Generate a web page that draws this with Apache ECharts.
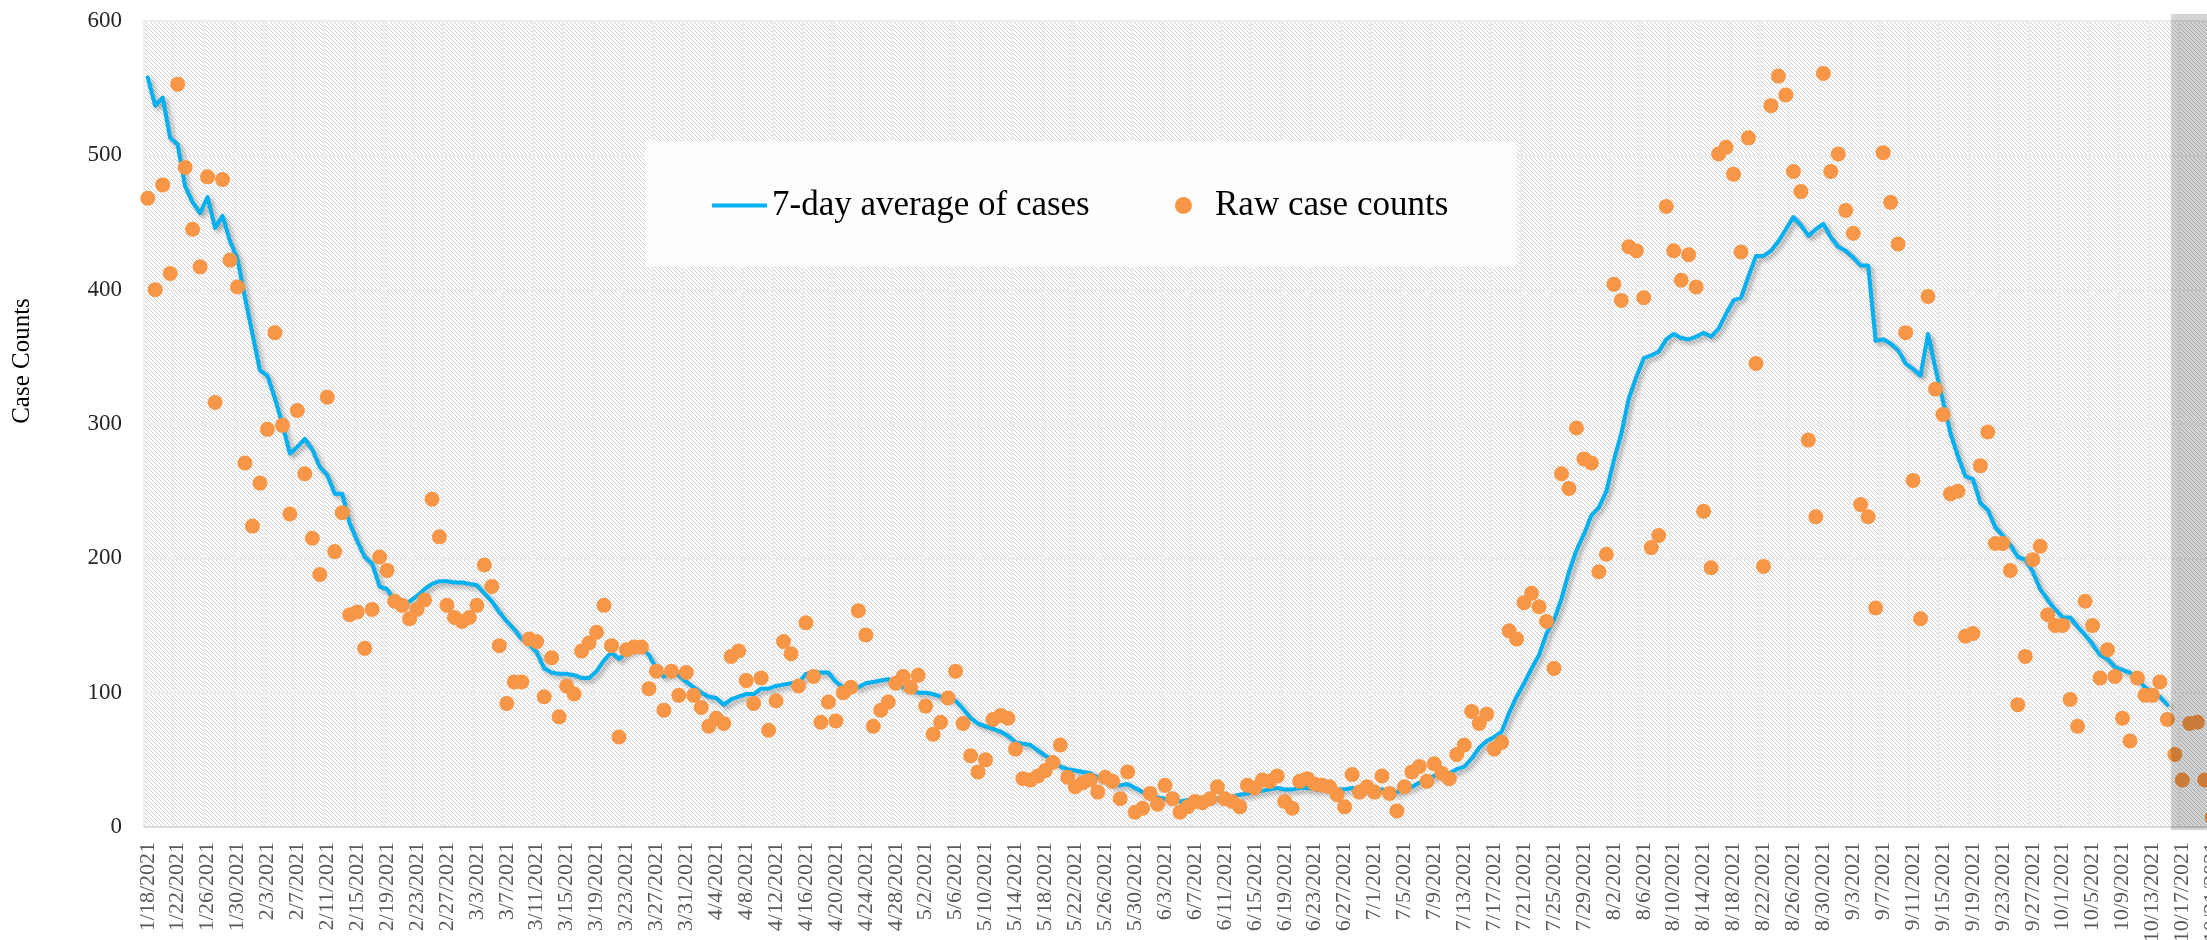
<!DOCTYPE html>
<html>
<head>
<meta charset="utf-8">
<script src="https://cdn.jsdelivr.net/npm/echarts@6/dist/echarts.min.js"></script>
<style>
html,body{margin:0;padding:0;background:#fff;}
#chart{width:2207px;height:940px;}
</style>
</head>
<body>
<div id="chart"></div>
<script>
const categories = [
"1/18/2021","1/19/2021","1/20/2021","1/21/2021","1/22/2021","1/23/2021","1/24/2021","1/25/2021","1/26/2021","1/27/2021","1/28/2021","1/29/2021","1/30/2021","1/31/2021",
"2/1/2021","2/2/2021","2/3/2021","2/4/2021","2/5/2021","2/6/2021","2/7/2021","2/8/2021","2/9/2021","2/10/2021","2/11/2021","2/12/2021","2/13/2021","2/14/2021","2/15/2021","2/16/2021","2/17/2021","2/18/2021","2/19/2021","2/20/2021","2/21/2021","2/22/2021","2/23/2021","2/24/2021","2/25/2021","2/26/2021","2/27/2021","2/28/2021",
"3/1/2021","3/2/2021","3/3/2021","3/4/2021","3/5/2021","3/6/2021","3/7/2021","3/8/2021","3/9/2021","3/10/2021","3/11/2021","3/12/2021","3/13/2021","3/14/2021","3/15/2021","3/16/2021","3/17/2021","3/18/2021","3/19/2021","3/20/2021","3/21/2021","3/22/2021","3/23/2021","3/24/2021","3/25/2021","3/26/2021","3/27/2021","3/28/2021","3/29/2021","3/30/2021","3/31/2021",
"4/1/2021","4/2/2021","4/3/2021","4/4/2021","4/5/2021","4/6/2021","4/7/2021","4/8/2021","4/9/2021","4/10/2021","4/11/2021","4/12/2021","4/13/2021","4/14/2021","4/15/2021","4/16/2021","4/17/2021","4/18/2021","4/19/2021","4/20/2021","4/21/2021","4/22/2021","4/23/2021","4/24/2021","4/25/2021","4/26/2021","4/27/2021","4/28/2021","4/29/2021","4/30/2021",
"5/1/2021","5/2/2021","5/3/2021","5/4/2021","5/5/2021","5/6/2021","5/7/2021","5/8/2021","5/9/2021","5/10/2021","5/11/2021","5/12/2021","5/13/2021","5/14/2021","5/15/2021","5/16/2021","5/17/2021","5/18/2021","5/19/2021","5/20/2021","5/21/2021","5/22/2021","5/23/2021","5/24/2021","5/25/2021","5/26/2021","5/27/2021","5/28/2021","5/29/2021","5/30/2021","5/31/2021",
"6/1/2021","6/2/2021","6/3/2021","6/4/2021","6/5/2021","6/6/2021","6/7/2021","6/8/2021","6/9/2021","6/10/2021","6/11/2021","6/12/2021","6/13/2021","6/14/2021","6/15/2021","6/16/2021","6/17/2021","6/18/2021","6/19/2021","6/20/2021","6/21/2021","6/22/2021","6/23/2021","6/24/2021","6/25/2021","6/26/2021","6/27/2021","6/28/2021","6/29/2021","6/30/2021",
"7/1/2021","7/2/2021","7/3/2021","7/4/2021","7/5/2021","7/6/2021","7/7/2021","7/8/2021","7/9/2021","7/10/2021","7/11/2021","7/12/2021","7/13/2021","7/14/2021","7/15/2021","7/16/2021","7/17/2021","7/18/2021","7/19/2021","7/20/2021","7/21/2021","7/22/2021","7/23/2021","7/24/2021","7/25/2021","7/26/2021","7/27/2021","7/28/2021","7/29/2021","7/30/2021","7/31/2021",
"8/1/2021","8/2/2021","8/3/2021","8/4/2021","8/5/2021","8/6/2021","8/7/2021","8/8/2021","8/9/2021","8/10/2021","8/11/2021","8/12/2021","8/13/2021","8/14/2021","8/15/2021","8/16/2021","8/17/2021","8/18/2021","8/19/2021","8/20/2021","8/21/2021","8/22/2021","8/23/2021","8/24/2021","8/25/2021","8/26/2021","8/27/2021","8/28/2021","8/29/2021","8/30/2021","8/31/2021",
"9/1/2021","9/2/2021","9/3/2021","9/4/2021","9/5/2021","9/6/2021","9/7/2021","9/8/2021","9/9/2021","9/10/2021","9/11/2021","9/12/2021","9/13/2021","9/14/2021","9/15/2021","9/16/2021","9/17/2021","9/18/2021","9/19/2021","9/20/2021","9/21/2021","9/22/2021","9/23/2021","9/24/2021","9/25/2021","9/26/2021","9/27/2021","9/28/2021","9/29/2021","9/30/2021",
"10/1/2021","10/2/2021","10/3/2021","10/4/2021","10/5/2021","10/6/2021","10/7/2021","10/8/2021","10/9/2021","10/10/2021","10/11/2021","10/12/2021","10/13/2021","10/14/2021","10/15/2021","10/16/2021","10/17/2021","10/18/2021","10/19/2021","10/20/2021","10/21/2021"
];

// Raw daily case counts (one per category)
const rawCounts = [
468,400,478,412,553,491,445,417,484,316,482,422,402,271,
224,256,296,368,299,233,310,263,215,188,320,205,234,158,160,133,162,201,191,168,165,155,162,169,244,216,165,156,
153,156,165,195,179,135,92,108,108,140,138,97,126,82,105,99,131,137,145,165,135,67,132,134,134,103,116,87,116,98,115,
98,89,75,81,77,127,131,109,92,111,72,94,138,129,105,152,112,78,93,79,100,104,161,143,75,87,93,107,112,104,113,
90,69,78,96,116,77,53,41,50,80,83,81,58,36,35,38,42,48,61,37,30,33,35,26,37,34,21,41,11,14,25,
17,31,21,11,15,19,18,21,30,21,19,15,31,29,35,34,38,19,14,34,36,32,31,30,24,15,39,26,30,26,38,25,
12,30,41,45,34,47,40,36,54,61,86,77,84,58,63,146,140,167,174,164,153,118,263,252,297,274,271,190,203,
404,392,432,429,394,208,217,462,429,407,426,402,235,193,501,506,486,428,513,345,194,537,559,545,488,473,288,231,561,488,501,
459,442,240,231,163,502,465,434,368,258,155,395,326,307,248,250,142,144,269,294,211,211,191,91,127,199,209,158,150,150,
95,75,168,150,111,132,112,81,64,111,98,98,108,80,54,35,77,78,35,7
];

// 7-day average of cases (ends 10/15/2021)
const avgCounts = [
558,537,543,513,508,477,465,457,469,446,455,436,423,394,
367,340,336,319,300,278,283,289,281,268,262,248,248,226,213,201,196,179,177,168,166,168,172,177,181,183,183,182,
182,181,180,174,168,160,153,147,140,136,130,118,115,114,114,113,111,111,116,124,130,125,130,132,134,128,118,112,115,113,108,
104,100,97,96,91,95,97,99,99,103,103,105,106,107,107,114,115,115,115,108,104,107,104,107,108,109,110,108,104,102,100,
100,99,97,97,94,88,81,77,75,73,71,68,63,62,61,57,53,50,45,43,42,41,40,37,35,31,31,32,29,26,24,
22,21,21,19,20,21,22,21,21,22,23,24,25,26,27,28,29,28,28,29,29,28,28,28,28,28,29,28,28,28,28,
27,26,28,30,33,36,38,40,40,43,45,51,59,64,67,71,85,97,107,118,128,144,154,170,190,206,218,232,238,250,
273,293,319,335,349,351,354,363,367,364,363,365,368,365,371,382,392,394,410,425,425,429,436,445,454,448,440,445,449,439,
432,429,424,418,418,362,363,360,355,345,341,336,367,341,317,293,276,261,259,241,236,223,217,210,201,199,190,177,169,162,
156,156,149,143,136,128,125,119,117,115,110,104,100,97,91
];

const yTicks = { min: 0, max: 600, interval: 100 };
const seriesNames = ['7-day average of cases', 'Raw case counts'];
const shadeStart = '10/16/2021';

const FONT = '"Liberation Serif", "DejaVu Serif", serif';

// hatch pattern (light downward diagonal)
const pc = document.createElement('canvas');
pc.width = 8; pc.height = 8;
const pctx = pc.getContext('2d');
pctx.fillStyle = '#ffffff';
pctx.fillRect(0, 0, 8, 8);
pctx.fillStyle = '#cfcfcf';
for (let i = 0; i < 8; i++) {
  pctx.fillRect(i, i, 1, 1);
  pctx.fillRect((i + 4) % 8, i, 1, 1);
}

const chart = echarts.init(document.getElementById('chart'), null, { renderer: 'canvas' });

const baseGraphic = [
  {
    type: 'rect', z: 1, silent: true,
    shape: { x: 645, y: 141, width: 871, height: 126 },
    style: { fill: 'rgba(255,255,255,0.85)' }
  },
  {
    type: 'text', z: 5, silent: true,
    x: 22, y: 361, rotation: Math.PI / 2,
    style: {
      text: 'Case Counts', fontFamily: FONT, fontSize: 25, fill: '#000000',
      align: 'center', verticalAlign: 'middle'
    }
  }
];

const option = {
  animation: false,
  backgroundColor: '#ffffff',
  grid: {
    show: true,
    left: 144,
    top: 21,
    width: 2072,
    height: 806,
    outerBoundsMode: 'none',
    containLabel: false,
    borderWidth: 0,
    backgroundColor: { image: pc, repeat: 'repeat' }
  },
  legend: [
    {
      data: [seriesNames[0]],
      left: 712, top: 188, padding: 0,
      icon: 'rect', itemWidth: 55, itemHeight: 4,
      textStyle: { fontFamily: FONT, fontSize: 35, color: '#000000' },
      selectedMode: false
    },
    {
      data: [seriesNames[1]],
      left: 1175, top: 188, padding: 0,
      icon: 'circle', itemWidth: 17, itemHeight: 17,
      textStyle: { fontFamily: FONT, fontSize: 35, color: '#000000', padding: [0, 0, 0, 18] },
      selectedMode: false
    }
  ],
  xAxis: {
    type: 'category',
    data: categories,
    boundaryGap: true,
    axisLine: { show: true, lineStyle: { color: '#d9d9d9', width: 2 } },
    axisTick: { show: false },
    axisLabel: {
      interval: 3, rotate: 90, margin: 15,
      fontFamily: FONT, fontSize: 22, color: '#595959'
    },
    splitLine: { show: true, interval: 3, lineStyle: { color: '#ededed', width: 2 } }
  },
  yAxis: {
    type: 'value',
    min: yTicks.min, max: yTicks.max, interval: yTicks.interval,
    axisLine: { show: false },
    axisTick: { show: false },
    axisLabel: { margin: 22, fontFamily: FONT, fontSize: 23, color: '#262626' },
    splitLine: { show: true, lineStyle: { color: '#ededed', width: 2 } }
  },
  graphic: baseGraphic,
  series: [
    {
      name: seriesNames[0],
      type: 'line',
      data: avgCounts,
      z: 2,
      symbol: 'none',
      itemStyle: { color: '#00b0f0' },
      lineStyle: {
        color: '#00b0f0', width: 4, join: 'round', cap: 'round',
        shadowColor: 'rgba(0,0,0,0.35)', shadowBlur: 5, shadowOffsetX: 3, shadowOffsetY: 3
      }
    },
    {
      name: seriesNames[1],
      type: 'scatter',
      data: rawCounts,
      z: 3,
      symbol: 'circle',
      symbolSize: 15,
      itemStyle: { color: '#f79646', opacity: 1 }
    }
  ]
};

chart.setOption(option);

// Shaded (incomplete data) region over the last days
const idx = categories.indexOf(shadeStart);
const p1 = chart.convertToPixel({ xAxisIndex: 0 }, categories[idx]);
const p0 = chart.convertToPixel({ xAxisIndex: 0 }, categories[idx - 1]);
const xStart = (p0 + p1) / 2;
chart.setOption({
  graphic: baseGraphic.concat([
    {
      type: 'rect', z: 20, silent: true,
      shape: { x: xStart, y: 14, width: 2207 - xStart + 20, height: 816 },
      style: { fill: 'rgba(0,0,0,0.15)', shadowBlur: 6, shadowColor: 'rgba(0,0,0,0.2)' }
    }
  ])
});
</script>
</body>
</html>
